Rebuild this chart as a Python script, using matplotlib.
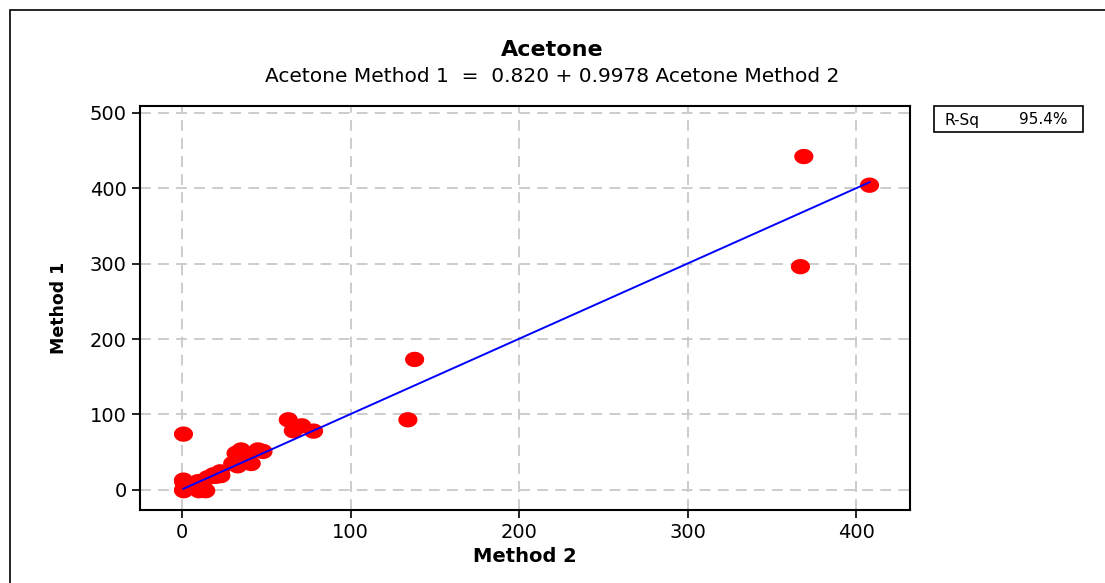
import numpy as np
import matplotlib.pyplot as plt
from matplotlib.path import Path
from matplotlib.patches import Rectangle

# values
method2 = [0.8, 0.8, 0.8, 1.0, 1.0, 9.5, 12, 10, 14, 15, 18.5, 22.6, 20, 23,
           30, 32, 35, 37, 33, 41, 45, 48, 63, 71, 66, 78, 134, 138, 367, 369, 408]
method1 = [74, 13, 0, 10, -1, 11, 0, -1, -1, 16, 20, 24, 18, 19,
           35, 48.5, 53, 40, 32, 35, 53, 51, 93, 85, 78.5, 78, 93, 173, 296, 442, 404]
intercept = 0.820
slope = 0.9978
rsq = 95.4

x_ticks = [0, 100, 200, 300, 400]
y_ticks = [0, 100, 200, 300, 400, 500]

# ellipse marker (a bit wider than tall)
t = np.linspace(0, 2 * np.pi, 60)
ellipse = Path(np.column_stack([np.cos(t), 0.8 * np.sin(t)]), closed=True)

fig = plt.figure(figsize=(11.05, 5.83), dpi=100)
ax = fig.add_axes([0.1267, 0.126, 0.6968, 0.6922])

ax.scatter(method2, method1, marker=ellipse, s=190, color='#ff0000',
           edgecolors='none', zorder=3)

xs = np.sort(np.array(method2))
ax.plot(xs, intercept + slope * xs, color='#0000ff', lw=1.4, zorder=4)

ax.set_xlim(-25, 432)
ax.set_ylim(-26, 509)
ax.set_xticks(x_ticks)
ax.set_yticks(y_ticks)
ax.grid(True, color='#c8c8c8', linestyle=(0, (6, 4)), lw=1.3)
ax.set_axisbelow(True)
ax.tick_params(direction='out', length=5.5, width=1.2, labelsize=14, pad=4)
for sp in ax.spines.values():
    sp.set_linewidth(1.5)

ax.set_xlabel('Method 2', fontsize=14, fontweight='bold', labelpad=4)
ax.set_ylabel('Method 1', fontsize=12.5, fontweight='bold', labelpad=16)

fig.text(0.5, 1 - 50 / 583, 'Acetone', ha='center', va='center',
         fontsize=16, fontweight='bold')
fig.text(0.5, 1 - 77 / 583, 'Acetone Method 1  =  0.820 + 0.9978 Acetone Method 2',
         ha='center', va='center', fontsize=14.5)

# R-Sq box
fig.add_artist(Rectangle((934 / 1105, 1 - 132 / 583), 149 / 1105, 26 / 583,
                         transform=fig.transFigure, fill=False, lw=1.2, ec='black'))
fig.text(945 / 1105, 1 - 120 / 583, 'R-Sq', fontsize=11, va='center')
fig.text(1068 / 1105, 1 - 120 / 583, f'{rsq}%', fontsize=11, va='center', ha='right')

# outer frame (runs off the right and bottom)
fig.add_artist(Rectangle((10 / 1105, -0.2), 1.2, 1.2 - 10 / 583,
                         transform=fig.transFigure, fill=False, lw=1.2, ec='black'))

fig.savefig('out.png', dpi=100)
